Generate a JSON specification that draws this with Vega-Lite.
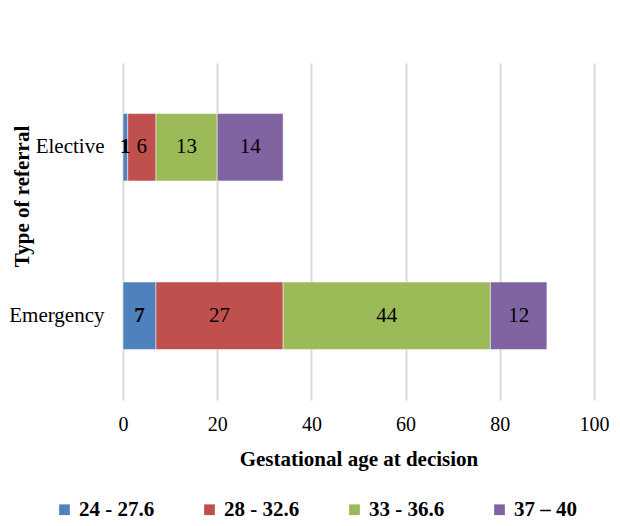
{
  "$schema": "https://vega.github.io/schema/vega-lite/v6.json",
  "width": 471,
  "height": 337,
  "autosize": "none",
  "padding": {"left": 123, "top": 63, "right": 26, "bottom": 126},
  "background": "white",
  "config": {
    "font": "Liberation Serif",
    "axis": {"labelFont": "Liberation Serif", "titleFont": "Liberation Serif"},
    "legend": {"labelFont": "Liberation Serif"},
    "text": {"font": "Liberation Serif"},
    "view": {"stroke": null}
  },
  "data": {
    "values": [
      {"referral": "Elective", "group": "24 - 27.6", "order": 1, "value": 1},
      {"referral": "Elective", "group": "28 - 32.6", "order": 2, "value": 6},
      {"referral": "Elective", "group": "33 - 36.6", "order": 3, "value": 13},
      {"referral": "Elective", "group": "37 – 40", "order": 4, "value": 14},
      {"referral": "Emergency", "group": "24 - 27.6", "order": 1, "value": 7},
      {"referral": "Emergency", "group": "28 - 32.6", "order": 2, "value": 27},
      {"referral": "Emergency", "group": "33 - 36.6", "order": 3, "value": 44},
      {"referral": "Emergency", "group": "37 – 40", "order": 4, "value": 12}
    ]
  },
  "transform": [
    {"stack": "value", "groupby": ["referral"], "sort": [{"field": "order"}], "as": ["v0", "v1"]},
    {"calculate": "(datum.v0 + datum.v1) / 2", "as": "mid"}
  ],
  "encoding": {
    "y": {
      "field": "referral",
      "type": "nominal",
      "sort": ["Elective", "Emergency"],
      "scale": {"paddingInner": 0.6, "paddingOuter": 0.3},
      "axis": {
        "title": "Type of referral",
        "titleFont": "Liberation Serif",
        "titleFontSize": 21,
        "titleFontWeight": "bold",
        "titleColor": "black",
        "titleX": -91,
        "titleY": 133,
        "labelFont": "Liberation Serif",
        "labelFontSize": 21,
        "labelColor": "black",
        "labelPadding": 19,
        "ticks": false,
        "domain": false
      }
    }
  },
  "layer": [
    {
      "mark": {"type": "bar", "stroke": "white", "strokeWidth": 0.5},
      "encoding": {
        "x": {
          "field": "v0",
          "type": "quantitative",
          "scale": {"domain": [0, 100], "nice": false},
          "axis": {
            "values": [0, 20, 40, 60, 80, 100],
            "title": "Gestational age at decision",
            "titleFont": "Liberation Serif",
            "titleFontSize": 21,
            "titleFontWeight": "bold",
            "titleColor": "black",
            "titlePadding": 14,
            "labelFont": "Liberation Serif",
            "labelFontSize": 20,
            "labelColor": "black",
            "labelPadding": 14,
            "labelFlush": false,
            "ticks": false,
            "domain": false,
            "grid": true,
            "gridColor": "#D9D9D9",
            "gridWidth": 2
          }
        },
        "x2": {"field": "v1"},
        "color": {
          "field": "group",
          "type": "nominal",
          "scale": {
            "domain": ["24 - 27.6", "28 - 32.6", "33 - 36.6", "37 – 40"],
            "range": ["#4F81BD", "#C0504D", "#9BBB59", "#8064A2"]
          },
          "legend": {
            "title": null,
            "orient": "none",
            "direction": "horizontal",
            "columns": 4,
            "legendX": -69,
            "legendY": 436,
            "symbolType": "square",
            "symbolSize": 115,
            "symbolStrokeWidth": 0,
            "symbolOpacity": 1,
            "labelFont": "Liberation Serif",
            "labelFontSize": 21,
            "labelFontWeight": "bold",
            "labelColor": "black",
            "labelOffset": 4,
            "columnPadding": 44,
            "labelLimit": 200
          }
        }
      }
    },
    {
      "transform": [{"filter": "datum.order !== 1"}],
      "mark": {"type": "text", "font": "Liberation Serif", "fontSize": 21, "color": "black", "baseline": "middle", "align": "center"},
      "encoding": {
        "x": {"field": "mid", "type": "quantitative"},
        "text": {"field": "value", "type": "quantitative"}
      }
    },
    {
      "transform": [{"filter": "datum.order === 1"}],
      "mark": {"type": "text", "font": "Liberation Serif", "fontSize": 21, "fontWeight": "bold", "color": "black", "baseline": "middle", "align": "center"},
      "encoding": {
        "x": {"field": "mid", "type": "quantitative"},
        "text": {"field": "value", "type": "quantitative"}
      }
    }
  ]
}
